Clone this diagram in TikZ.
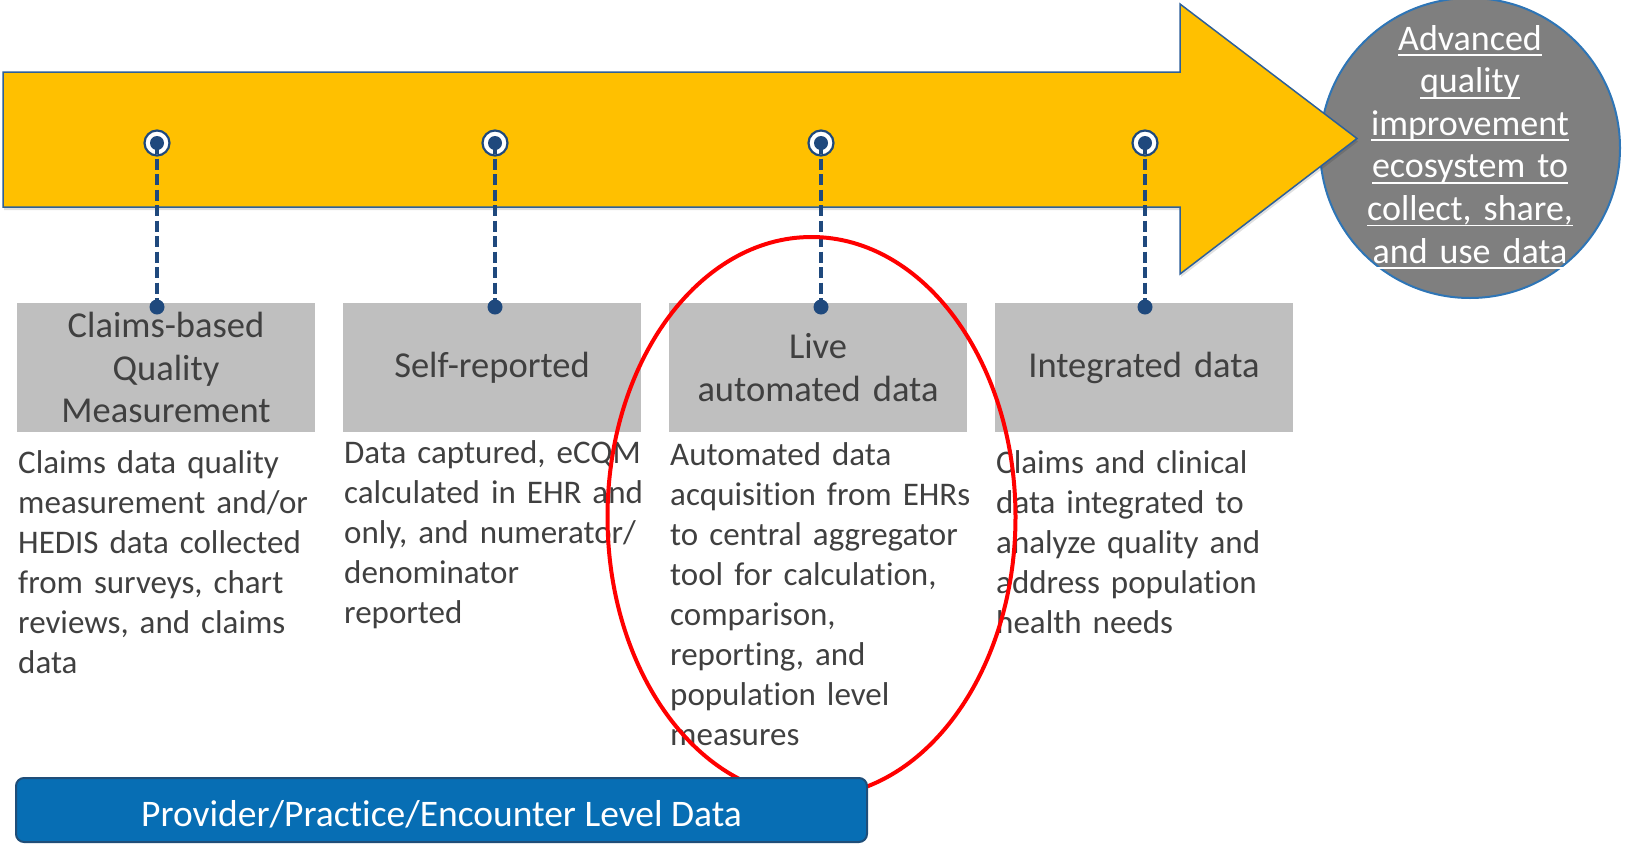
\documentclass[tikz,border=0pt]{standalone}
\usepackage{fontspec}
\setmainfont{Carlito}[Ligatures={NoCommon}]
\definecolor{arrowfill}{HTML}{FFC000}
\definecolor{arrowline}{HTML}{2E6099}
\definecolor{mblue}{HTML}{1F497D}
\definecolor{boxgray}{HTML}{BFBFBF}
\definecolor{txtgray}{HTML}{404040}
\definecolor{circgray}{HTML}{7F7F7F}
\definecolor{circline}{HTML}{2E75B6}
\definecolor{barblue}{HTML}{076EB4}
\definecolor{barline}{HTML}{1F4E79}
\newcommand\myul[1]{\leavevmode\setbox0\hbox{#1}\rlap{\rule[-6pt]{\wd0}{1.8pt}}\box0}
\tikzset{
  stagebox/.style={rectangle, fill=boxgray, minimum width=298pt, minimum height=129pt,
    inner sep=0pt, text width=290pt, align=center, text=txtgray,
    font=\fontsize{36.5}{42.5}\selectfont},
  desc/.style={anchor=base west, inner sep=0pt, text width=305pt, align=left, text=txtgray,
    font=\fontsize{33}{40}\selectfont},
  ring/.style={circle, minimum size=25pt, inner sep=0pt, draw=mblue, line width=2.2pt, fill=white},
  enddot/.style={circle, minimum size=15pt, inner sep=0pt, fill=mblue},
  dashline/.style={draw=mblue, line width=4.5pt, dash pattern=on 11pt off 4.5pt},
}
\begin{document}
\begin{tikzpicture}[x=1pt,y=-1pt]
\useasboundingbox (0,0) rectangle (1634,844);
% goal circle
\node[circle, minimum size=300pt, inner sep=0pt, fill=circgray, draw=circline, line width=2pt] (goal) at (1470,148) {};
% arrow shadow and arrow
\fill[black, opacity=0.12] (4,75) -- (1181,75) -- (1181,7) -- (1358,141.5) -- (1181,277) -- (1181,210) -- (4,210) -- cycle;
\draw[fill=arrowfill, draw=arrowline, line width=1.5pt] (3,72) -- (1180,72) -- (1180,4) -- (1357,138.5) -- (1180,274) -- (1180,207) -- (3,207) -- cycle;
% goal text
\node[anchor=base, inner sep=0pt, text width=320pt, align=center, text=white,
  font=\fontsize{36}{42.6}\selectfont] (goaltxt) at (1470,50)
  {\myul{Advanced}\\\myul{quality}\\\myul{improvement}\\\myul{ecosystem to}\\\myul{collect, share,}\\\myul{and use data}};
% stage boxes
\node[stagebox] (b1) at (166,367.5) {Claims-based\\Quality\\Measurement};
\node[stagebox] (b2) at (492,367.5) {Self-reported};
\node[stagebox] (b3) at (818,367.5) {Live\\automated data};
\node[stagebox] (b4) at (1144,367.5) {Integrated data};
% markers
\foreach \i/\x in {1/157,2/495,3/821,4/1145}{
  \node[ring] (m\i) at (\x,143) {};
  \node[enddot] (d\i) at (\x,307) {};
  \draw[dashline] (m\i.center) -- (d\i.center);
  \fill[mblue] (m\i.center) circle (7pt);
}
% descriptions
\node[desc] (t1) at (18,473) {Claims data quality\\measurement and/or\\HEDIS data collected\\from surveys, chart\\reviews, and claims\\data};
\node[desc] (t2) at (344,463) {Data captured, eCQM\\calculated in EHR and\\only, and numerator/\\denominator\\reported};
\node[desc] (t3) at (670,465) {Automated data\\acquisition from EHRs\\to central aggregator\\tool for calculation,\\comparison,\\reporting, and\\population level\\measures};
\node[desc] (t4) at (996,473) {Claims and clinical\\data integrated to\\analyze quality and\\address population\\health needs};
% red ellipse
\draw[red, line width=4pt] (811.5,517) ellipse [x radius=204, y radius=280];
% bottom bar
\node[rectangle, rounded corners=8pt, fill=barblue, draw=barline, line width=2pt,
  minimum width=851pt, minimum height=64pt, inner sep=0pt, text=white,
  text height=32pt, text depth=0pt, font=\fontsize{37.5}{42}\selectfont] (bar) at (441.5,810)
  {Provider/Practice/Encounter Level Data};
\end{tikzpicture}
\end{document}
